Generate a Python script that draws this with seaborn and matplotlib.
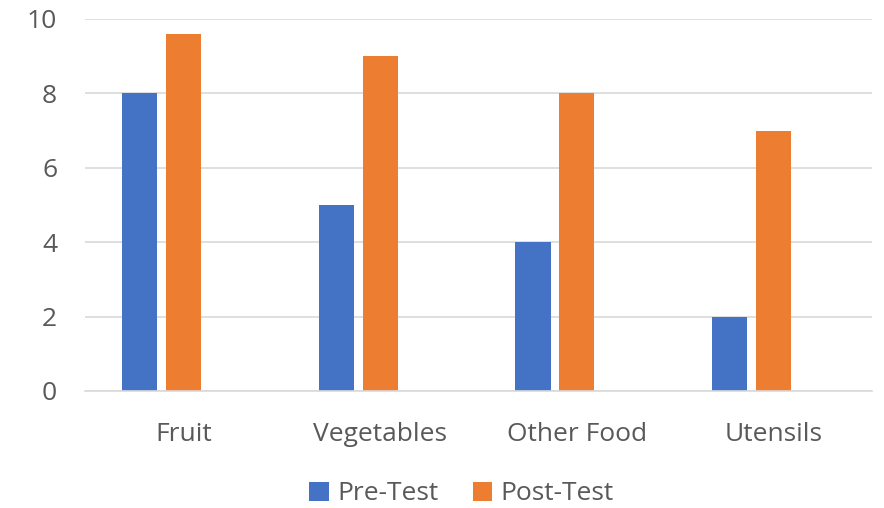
import matplotlib
matplotlib.use("Agg")
import matplotlib.pyplot as plt
import seaborn as sns
import pandas as pd
import numpy as np
from matplotlib.patches import Patch

categories = ["Fruit", "Vegetables", "Other Food", "Utensils"]
pre_test = [8, 5, 4, 2]
post_test = [9.6, 9, 8, 7]
series_names = ["Pre-Test", "Post-Test"]
y_ticks = [0, 2, 4, 6, 8, 10]

# A third, empty series keeps the cluster layout of the source workbook
spacer = "_spacer"
df = pd.DataFrame({
    "category": categories * 3,
    "series": [series_names[0]] * 4 + [series_names[1]] * 4 + [spacer] * 4,
    "value": pre_test + post_test + [np.nan] * 4,
})

colors = {"Pre-Test": "#4472C4", "Post-Test": "#ED7D31", spacer: "#FFFFFF"}
text_color = "#595959"

sns.set_theme(style="white")
plt.rcParams["font.family"] = ["Open Sans", "DejaVu Sans"]

fig = plt.figure(figsize=(8.84, 5.08), dpi=100)
ax = fig.add_axes([85 / 884, 1 - 391 / 508, (872 - 85) / 884, (391 - 19) / 508])

sns.barplot(data=df, x="category", y="value", hue="series",
            hue_order=series_names + [spacer], order=categories,
            palette=colors, width=0.67, gap=0.2, saturation=1,
            errorbar=None, legend=False, linewidth=0, ax=ax)

ax.set_xlim(-0.5, 3.5)
ax.set_ylim(0, 10)
ax.set_yticks(y_ticks)
ax.set_xlabel("")
ax.set_ylabel("")
ax.grid(axis="y", color="#D9D9D9", linewidth=1.2)
ax.set_axisbelow(True)
for side in ["top", "right", "left"]:
    ax.spines[side].set_visible(False)
ax.spines["bottom"].set_color("#D9D9D9")
ax.spines["bottom"].set_linewidth(1.2)
ax.tick_params(axis="both", length=0, labelsize=19, colors=text_color)
ax.tick_params(axis="y", pad=20)
ax.tick_params(axis="x", pad=22)

handles = [Patch(facecolor=colors[s], edgecolor="none") for s in series_names]
fig.legend(handles, series_names, loc="center", bbox_to_anchor=(0.522, 1 - 494 / 508),
           ncol=2, frameon=False, fontsize=19, labelcolor=text_color,
           handlelength=0.75, handleheight=0.75, handletextpad=0.3,
           columnspacing=1.3)

fig.savefig("out.png", dpi=100)
